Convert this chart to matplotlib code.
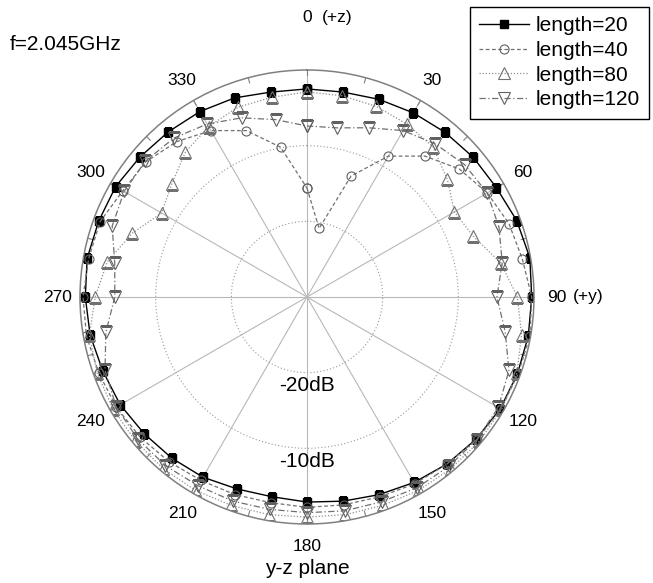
import numpy as np
import matplotlib
matplotlib.use('Agg')
import matplotlib.pyplot as plt

plt.rcParams['font.family'] = ['Liberation Sans', 'DejaVu Sans']

# angles in degrees, 0 = +z (top), clockwise
angles = list(range(0, 360, 10))

# relative gain in dB, every 10 degrees
len20 = [-2.5, -2.5, -2.2, -1.9, -1.6, -1.3, -1.1, -0.5, -0.1, -0.3, -0.3, -0.4,
         -0.5, -0.8, -1.2, -1.7, -2.2, -2.6, -2.9, -3.2, -3.0, -2.5, -2.2, -1.9,
         -1.5, -1.3, -0.9, -0.7, -0.5, -0.7, -0.8, -1.2, -1.5, -1.7, -2.0, -2.5]
len40 = [-15.6, -20.8, -13.0, -8.5, -5.7, -3.7, -2.5, -1.6, -1.1, -0.3, -0.1, -0.3,
         -0.4, -0.7, -1.2, -1.5, -1.9, -2.1, -2.2, -2.4, -2.2, -2.0, -1.6, -1.2,
         -0.9, -0.7, -0.4, -0.4, -0.7, -0.9, -1.9, -2.2, -3.2, -4.6, -6.6, -9.9]
len80 = [-2.9, -3.0, -3.2, -3.6, -4.1, -5.8, -7.5, -6.6, -4.0, -2.2, -1.2, -0.5,
         -0.3, -0.3, -0.4, -0.5, -0.7, -0.8, -0.9, -0.8, -0.7, -0.5, -0.4, -0.4,
         -0.4, -0.5, -0.8, -2.0, -3.2, -5.4, -7.8, -6.7, -5.0, -4.0, -3.3, -3.2]
len120 = [-7.4, -7.3, -6.2, -4.6, -3.6, -2.8, -2.5, -3.0, -3.8, -4.9, -3.4, -1.6,
          -0.8, -0.7, -0.8, -0.9, -1.2, -1.3, -1.5, -1.5, -1.3, -1.2, -0.9, -0.8,
          -0.9, -1.6, -3.0, -4.6, -4.2, -2.6, -2.1, -2.1, -2.6, -3.6, -4.8, -6.2]

angle_labels = ['0', '30', '60', '90', '120', '150', '180', '210', '240', '270', '300', '330']
ring_db = [-20, -10]
ring_labels = ['-20dB', '-10dB']

fig = plt.figure(figsize=(6.53, 5.83), dpi=100)
W, H = 653, 583
cx, cy, R = 307, 297, 227
ax = fig.add_axes([(cx - R) / W, (H - cy - R) / H, 2 * R / W, 2 * R / H], projection='polar')
ax.set_theta_zero_location('N')
ax.set_theta_direction(-1)
ax.set_ylim(-30, 0)

ax.set_thetagrids(range(0, 360, 30), labels=[])
ax.set_rgrids(ring_db, labels=[])
ax.xaxis.grid(True, color='#b8b8b8', lw=0.8, ls='-')
ax.yaxis.grid(True, color='#999999', lw=0.8, ls=(0, (1, 2)))
ax.spines['polar'].set_color('#808080')
ax.spines['polar'].set_linewidth(1.1)
ax.tick_params(axis='both', length=0)

# small ticks on outer rim every 15 degrees
for a in range(0, 360, 15):
    ax.plot([np.radians(a)] * 2, [-0.7, 0], color='#808080', lw=0.8, clip_on=False)


def closed(v):
    return np.radians(angles + [angles[0]]), v + [v[0]]


th, r = closed(len20)
ax.plot(th, r, color='black', lw=1.0, marker='s', ms=5.5, mfc='black', mec='black',
        label='length=20')
th, r = closed(len40)
ax.plot(th, r, color='#707070', lw=0.9, ls=(0, (3, 2)), marker='o', ms=6.5, mfc='none',
        mec='#606060', mew=0.8, label='length=40')
th, r = closed(len80)
ax.plot(th, r, color='#909090', lw=0.9, ls=(0, (1, 1.5)), marker='^', ms=8, mfc='none',
        mec='#707070', mew=0.8, label='length=80')
th, r = closed(len120)
ax.plot(th, r, color='#707070', lw=0.9, ls=(0, (5, 2, 1, 2)), marker='v', ms=8, mfc='none',
        mec='#606060', mew=0.8, label='length=120')

# angle labels
for lab in angle_labels:
    a = int(lab)
    rr = 7.0 if a == 0 else 3.0
    ax.text(np.radians(a), rr, lab, ha='center', va='center', fontsize=12.5, clip_on=False)
ax.annotate('(+z)', xy=(0, 7.0), xytext=(11, 0), textcoords='offset points',
            ha='left', va='center', fontsize=12.5, annotation_clip=False)
ax.annotate('(+y)', xy=(np.radians(90), 3.0), xytext=(12, 0), textcoords='offset points',
            ha='left', va='center', fontsize=12.5, annotation_clip=False)

# ring labels
for db, lab in zip(ring_db, ring_labels):
    ax.text(np.pi, db + 1.7, lab, ha='center', va='center', fontsize=15)

fig.text(10 / W, 1 - 45 / H, 'f=2.045GHz', ha='left', va='center', fontsize=15)
fig.text(cx / W, 1 - 568 / H, 'y-z plane', ha='center', va='center', fontsize=15)

leg = fig.legend(loc='upper right', bbox_to_anchor=(649 / W, 1 - 7 / H), fontsize=15,
                 frameon=True, fancybox=False, framealpha=1, edgecolor='black',
                 handlelength=2.4, handletextpad=0.3, labelspacing=0.27, borderpad=0.45,
                 borderaxespad=0)
leg.get_frame().set_linewidth(1.0)

fig.savefig('out.png', dpi=100)
